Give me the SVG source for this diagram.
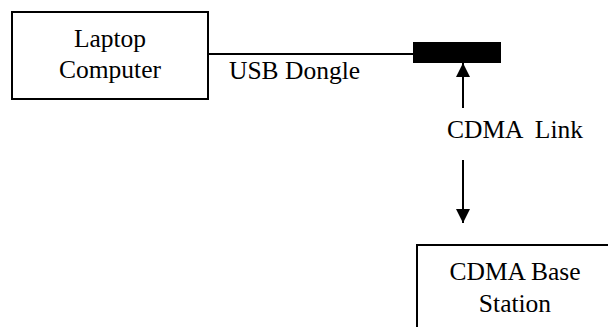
<svg xmlns="http://www.w3.org/2000/svg" width="608" height="327" viewBox="0 0 608 327">
  <style>
    .box { fill: #fff; stroke: #000; stroke-width: 2; }
    .lbl { font-family: 'Liberation Serif', 'Times New Roman', 'DejaVu Serif', serif; font-size: 25.5px; fill: #000; }
    .wire { stroke: #000; stroke-width: 2; fill: none; }
  </style>
  <defs>
    <marker id="tri" viewBox="0 0 14 15" refX="14" refY="7" markerWidth="14" markerHeight="15" markerUnits="userSpaceOnUse" orient="auto">
      <path d="M0,0 L14,7 L0,14 z" fill="#000"/>
    </marker>
  </defs>
  <rect width="608" height="327" fill="#fff"/>

  <g id="connectors">
    <line class="wire" x1="208" y1="54" x2="413" y2="54"/>
    <line class="wire" x1="463" y1="108" x2="463" y2="63" marker-end="url(#tri)"/>
    <line class="wire" x1="463" y1="160" x2="463" y2="223" marker-end="url(#tri)"/>
    <text class="lbl" x="229" y="79" font-family="Liberation Serif, serif">USB Dongle</text>
    <text class="lbl" x="447" y="138" font-family="Liberation Serif, serif" xml:space="preserve">CDMA  Link</text>
  </g>

  <g id="laptop">
    <rect class="box" x="12" y="12" width="196" height="87"/>
    <text class="lbl" x="110" y="47" text-anchor="middle">Laptop</text>
    <text class="lbl" x="110" y="78" text-anchor="middle">Computer</text>
  </g>

  <g id="dongle">
    <rect x="413" y="42" width="88" height="21" fill="#000"/>
  </g>

  <g id="base-station">
    <rect class="box" x="417" y="245" width="200" height="100"/>
    <text class="lbl" x="515" y="280" text-anchor="middle">CDMA Base</text>
    <text class="lbl" x="515" y="312" text-anchor="middle">Station</text>
  </g>
</svg>
